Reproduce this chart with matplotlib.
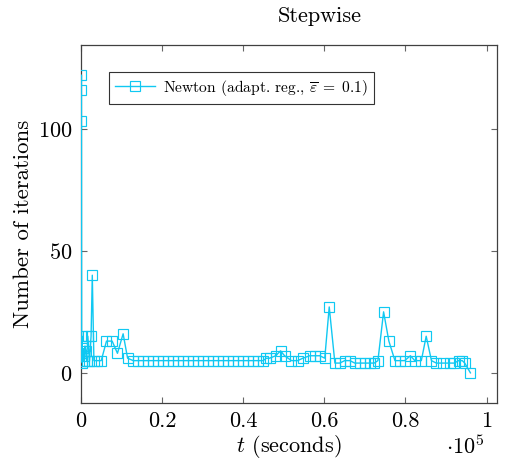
# Newton iterations per step, stepwise run

import numpy as np
import matplotlib
matplotlib.use("Agg")
import matplotlib.pyplot as plt

plt.rcParams["font.family"] = "serif"
plt.rcParams["font.serif"] = ["cmr10"]
plt.rcParams["mathtext.fontset"] = "cm"
plt.rcParams["axes.formatter.use_mathtext"] = True

# time of each step (seconds) and number of Newton iterations
t_sec = [0, 60, 120, 180, 250, 350, 500, 650, 800, 1000, 1200, 1400, 1700, 2100,
         2500, 2800, 3200, 4000, 5000, 6300, 7700, 9000, 10400, 11500,
         12900, 14100, 15400, 16600, 17800, 19100, 20300, 21500, 22800, 24000,
         25200, 26500, 27700, 28900, 30200, 31400, 32600, 33900, 35100, 36300,
         37600, 38800, 40000, 41300, 42500, 43700,
         44900, 45700, 46500, 48000, 49200, 50200, 51900, 53400, 54700, 56400,
         57600, 58900, 60100, 61200, 62600, 63800, 65000, 66300, 67500, 68800,
         70000, 71200, 72300, 73200, 74600, 75900, 77400, 78600, 79800, 81200,
         82300, 83900, 85100, 86400, 87600, 89200, 90900, 92000, 93100, 94000,
         94600, 96000]
iters = [103, 116, 122, 5, 15, 4, 10, 7, 5, 11, 9, 5, 15, 5,
         15, 40, 5, 5, 5, 13, 13, 8, 16, 6,
         5, 5, 5, 5, 5, 5, 5, 5, 5, 5,
         5, 5, 5, 5, 5, 5, 5, 5, 5, 5,
         5, 5, 5, 5, 5, 5,
         5, 6, 6, 7, 9, 7, 5, 5, 6, 7,
         7, 7, 6, 27, 4, 4, 5, 5, 4, 4,
         4, 4, 4, 5, 25, 13, 5, 5, 5, 7,
         5, 5, 15, 5, 4, 4, 4, 4, 5, 5,
         4, 0]

xticks = [0, 0.2, 0.4, 0.6, 0.8, 1]
yticks = [0, 50, 100]

cyan = "#10c8f2"

fig = plt.figure(figsize=(5.09, 4.62), dpi=100)
ax = fig.add_axes([0.159, 0.128, 0.817, 0.775])

t = np.array(t_sec) / 1e5
ax.plot(t, iters, color=cyan, lw=1.0, marker="s", ms=7.5, mfc="none",
        mec=cyan, mew=0.85, zorder=3,
        label=r"Newton (adapt. reg., $\overline{\varepsilon}\;=\;0.1$)")

ax.set_xlim(0, 1.025)
ax.set_ylim(-12.3, 134.4)
ax.set_xticks(xticks)
ax.set_xticklabels(["0", "0.2", "0.4", "0.6", "0.8", "1"])
ax.set_yticks(yticks)
ax.tick_params(direction="in", top=True, right=True, length=4, width=0.8,
               color="0.4", labelsize=16, pad=6)
for s in ax.spines.values():
    s.set_linewidth(0.9)
    s.set_color("0.25")

ax.text(0.575, 1.08, "Stepwise", transform=ax.transAxes, ha="center",
        va="center", fontsize=16)
ax.set_xlabel(r"$t$ (seconds)", fontsize=16, labelpad=2)
ax.set_ylabel("Number of iterations", fontsize=16.5, labelpad=4)
ax.text(0.971, -0.122, r"$\cdot10^5$", transform=ax.transAxes, ha="right",
        va="center", fontsize=16)

leg = ax.legend(loc="upper left", bbox_to_anchor=(0.067, 0.925), fontsize=11.2,
                fancybox=False, edgecolor="0.2", framealpha=1, handlelength=2.6,
                borderpad=0.4, borderaxespad=0, handletextpad=0.5)
leg.get_frame().set_linewidth(0.8)
leg.set_zorder(4)

fig.savefig("out.png", dpi=100)
